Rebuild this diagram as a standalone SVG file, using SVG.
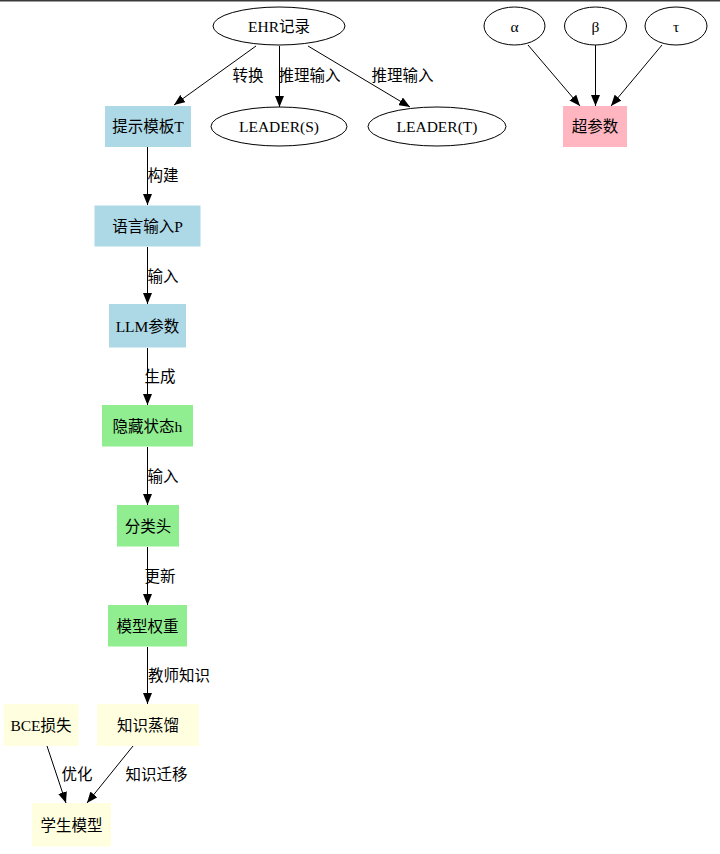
<svg xmlns="http://www.w3.org/2000/svg" width="720" height="854" viewBox="0 0 720 854">
<defs>
<marker id="arr" markerUnits="userSpaceOnUse" markerWidth="11" markerHeight="9" refX="11" refY="4.5" orient="auto">
<path d="M0,0 L11,4.5 L0,9 z" fill="#000"/>
</marker>
<style>
text{font-family:"Liberation Serif","Noto Sans CJK SC",serif;font-size:15.5px;fill:#000;text-anchor:middle}
.lbl{font-family:"Liberation Sans","Noto Sans CJK SC",sans-serif}
.e{stroke:#000;stroke-width:1;fill:none;marker-end:url(#arr)}
ellipse{fill:#fff;stroke:#000;stroke-width:1}
.blue{fill:#add8e6}.green{fill:#90ee90}.yellow{fill:#ffffe0}.pink{fill:#ffb6c1}
</style>
</defs>
<rect x="0" y="0" width="720" height="854" fill="#fff"/>
<rect x="0" y="0" width="720" height="1.5" fill="#3a3a3a"/>
<g id="edges">
<line class="e" x1="256" y1="46" x2="174" y2="105"/>
<line class="e" x1="279.5" y1="46" x2="279.5" y2="107"/>
<line class="e" x1="308" y1="46" x2="410" y2="107"/>
<line class="e" x1="528" y1="45" x2="580" y2="106"/>
<line class="e" x1="595.5" y1="45" x2="595.5" y2="106"/>
<line class="e" x1="662" y1="45" x2="611" y2="106"/>
<line class="e" x1="147.5" y1="147" x2="147.5" y2="205"/>
<line class="e" x1="147.5" y1="247" x2="147.5" y2="304"/>
<line class="e" x1="147.5" y1="348" x2="147.5" y2="405"/>
<line class="e" x1="147.5" y1="447" x2="147.5" y2="505"/>
<line class="e" x1="147.5" y1="547" x2="147.5" y2="605"/>
<line class="e" x1="147.5" y1="647" x2="147.5" y2="704"/>
<line class="e" x1="47" y1="746" x2="66" y2="803"/>
<line class="e" x1="133" y1="746" x2="87" y2="803"/>
<text class="lbl" x="248" y="81">转换</text>
<text class="lbl" x="309.5" y="81">推理输入</text>
<text class="lbl" x="402.5" y="81">推理输入</text>
<text class="lbl" x="163" y="181">构建</text>
<text class="lbl" x="163" y="282">输入</text>
<text class="lbl" x="160" y="382">生成</text>
<text class="lbl" x="163" y="482">输入</text>
<text class="lbl" x="160" y="582">更新</text>
<text class="lbl" x="179" y="681">教师知识</text>
<text class="lbl" x="77" y="780">优化</text>
<text class="lbl" x="156.5" y="780">知识迁移</text>
</g>
<g id="ehr"><ellipse cx="279" cy="26" rx="66" ry="19"/><text x="279" y="31.5">EHR记录</text></g>
<g id="leaders"><ellipse cx="279" cy="126.5" rx="68" ry="19.5"/><text x="279" y="132">LEADER(S)</text></g>
<g id="leadert"><ellipse cx="437" cy="126.5" rx="69" ry="19.5"/><text x="437" y="132">LEADER(T)</text></g>
<g id="alpha"><ellipse cx="514.5" cy="26" rx="30.5" ry="19"/><text x="514.5" y="31.5">α</text></g>
<g id="beta"><ellipse cx="595.5" cy="26" rx="31" ry="19"/><text x="595.5" y="31.5">β</text></g>
<g id="tau"><ellipse cx="676" cy="26" rx="31" ry="19"/><text x="676" y="31.5">τ</text></g>
<g id="hyper"><rect class="pink" x="563" y="106" width="64" height="41"/><text x="595" y="132">超参数</text></g>
<g id="template"><rect class="blue" x="105" y="106" width="86" height="41"/><text x="148" y="132">提示模板T</text></g>
<g id="langinput"><rect class="blue" x="94.5" y="205.5" width="106" height="41"/><text x="147.5" y="231.5">语言输入P</text></g>
<g id="llm"><rect class="blue" x="109" y="304" width="77" height="43.5"/><text x="147.5" y="331.5">LLM参数</text></g>
<g id="hidden"><rect class="green" x="102" y="405" width="91" height="41.5"/><text x="147.5" y="431.5">隐藏状态h</text></g>
<g id="head"><rect class="green" x="117" y="505" width="62" height="41.5"/><text x="148" y="531.5">分类头</text></g>
<g id="weights"><rect class="green" x="108" y="605" width="79" height="41.5"/><text x="147.5" y="631.5">模型权重</text></g>
<g id="kd"><rect class="yellow" x="97" y="704" width="102" height="42"/><text x="148" y="730.5">知识蒸馏</text></g>
<g id="bce"><rect class="yellow" x="3.5" y="704" width="75" height="42"/><text x="41" y="730.5">BCE损失</text></g>
<g id="student"><rect class="yellow" x="32" y="803" width="79" height="43.5"/><text x="71.5" y="830.5">学生模型</text></g>
</svg>
